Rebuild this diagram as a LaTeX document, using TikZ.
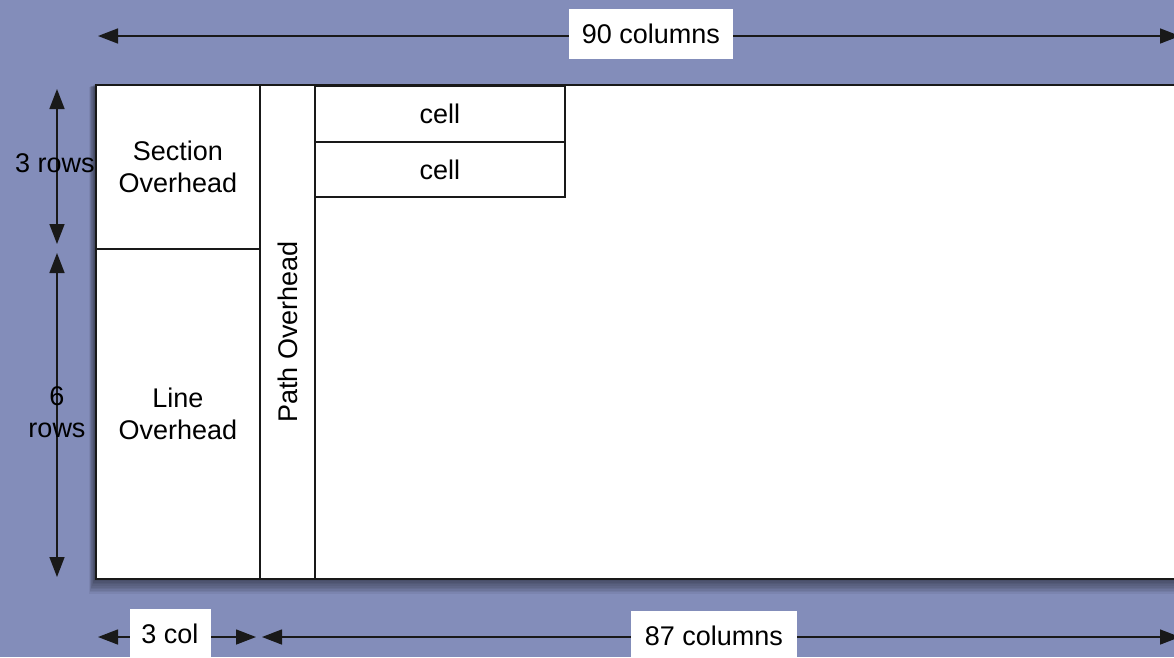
\documentclass[tikz,border=0pt]{standalone}
\usepackage{fontspec}
\setmainfont{Liberation Sans}
\usetikzlibrary{arrows.meta}
\definecolor{bgblue}{RGB}{131,141,186}
\tikzset{
  box/.style={draw=black!90, line width=1.8pt, fill=white, inner sep=0pt, align=center,
    font=\fontsize{27}{32}\selectfont},
  lbl/.style={inner sep=0pt, align=center, font=\fontsize{27}{32}\selectfont},
  tag/.style={fill=white, inner xsep=9pt, inner ysep=0pt, minimum height=50pt, font=\fontsize{27}{32}\selectfont},
  dim/.style={line width=1.5pt, black!90, {Triangle[length=20pt,width=15pt]}-{Triangle[length=20pt,width=15pt]}},
}
\begin{document}
\begin{tikzpicture}[x=1pt,y=-1pt]
\useasboundingbox (0,0) rectangle (1174,657);
\clip (0,0) rectangle (1174,657);
\fill[bgblue] (0,0) rectangle (1174,657);
% shadow
\foreach \i in {1,...,10}{
  \fill[black, opacity=0.06] (95-\i*0.6,84+\i*0.3) rectangle (1200,578+\i*1.6);
}
% frame
\node[box, minimum width=1110pt, minimum height=494pt, anchor=north west] (frame) at (95,84) {};
\node[box, minimum width=164pt, minimum height=164pt, anchor=north west] (sec) at (95,84) {Section\\Overhead};
\node[box, minimum width=164pt, minimum height=330pt, anchor=north west] (line) at (95,248) {Line\\Overhead};
\node[box, minimum width=55pt, minimum height=494pt, anchor=north west] (path) at (259,84) {};
\node[lbl, rotate=90] (pathl) at (path.center) {Path Overhead};
\node[box, minimum width=250pt, minimum height=56pt, anchor=north west] (cell1) at (314,85) {cell};
\node[box, minimum width=250pt, minimum height=55pt, anchor=north west] (cell2) at (314,141) {cell};
% top dimension
\coordinate (tl) at (98,36);
\coordinate (tr) at (1180,36);
\draw[dim] (tl) -- (tr);
\node[tag, minimum width=164pt] (t90) at (651,34) {90 columns};
% left dimensions
\coordinate (r3a) at (57,89);
\coordinate (r3b) at (57,244);
\draw[dim] (r3a) -- (r3b);
\node[lbl] (r3) at (55,163) {3 rows};
\coordinate (r6a) at (57,253);
\coordinate (r6b) at (57,577);
\draw[dim] (r6a) -- (r6b);
\node[lbl] (r6) at (57,412) {6\\rows};
% bottom dimensions
\coordinate (c3a) at (98,637);
\coordinate (c3b) at (256,637);
\draw[dim] (c3a) -- (c3b);
\node[tag, minimum width=81pt] (c3) at (170,634) {3 col};
\coordinate (c87a) at (262,637);
\coordinate (c87b) at (1180,637);
\draw[dim] (c87a) -- (c87b);
\node[tag, minimum width=166pt] (c87) at (714,636) {87 columns};
\end{tikzpicture}
\end{document}
